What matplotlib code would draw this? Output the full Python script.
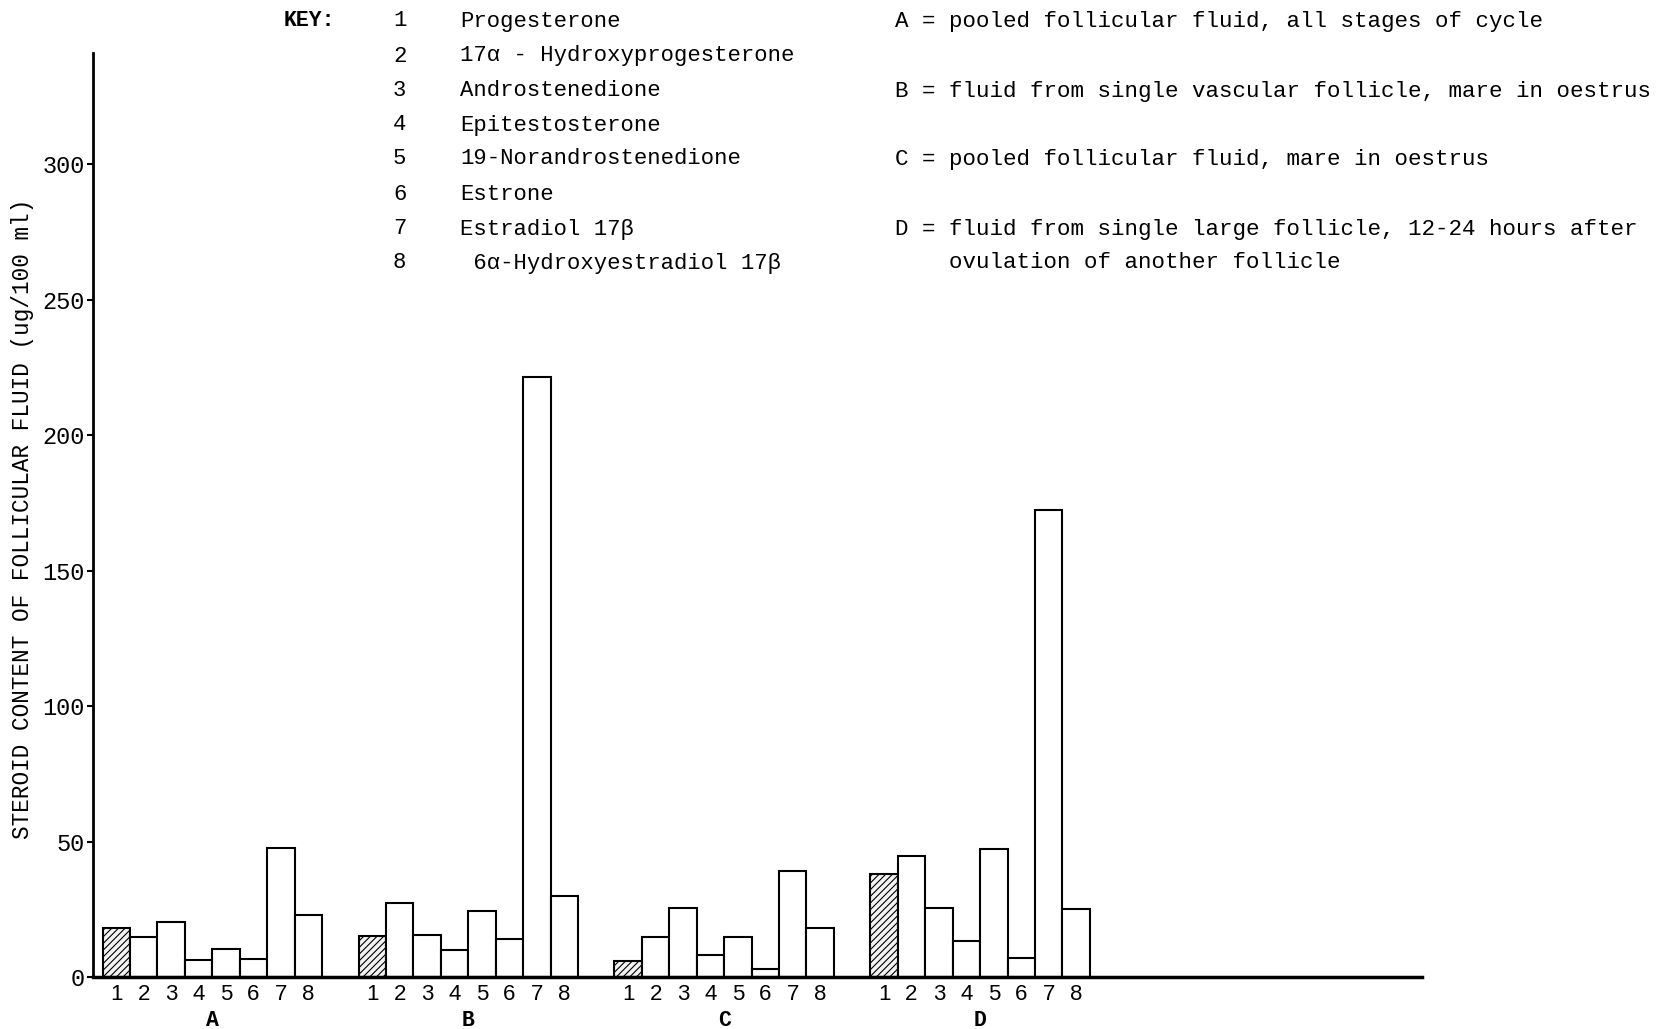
import matplotlib
matplotlib.use("Agg")
import matplotlib.pyplot as plt
import numpy as np

# ---- data ----
groups = ["A", "B", "C", "D"]
steroid_numbers = ["1", "2", "3", "4", "5", "6", "7", "8"]
values_A = [18.0, 14.9, 20.2, 6.2, 10.2, 6.7, 47.5, 22.8]
values_B = [15.0, 27.3, 15.4, 10.0, 24.3, 14.2, 221.5, 29.9]
values_C = [6.0, 14.8, 25.4, 8.1, 14.8, 2.8, 39.0, 17.9]
values_D = [38.1, 44.8, 25.6, 13.3, 47.4, 6.9, 172.5, 25.2]
yticks = [0, 50, 100, 150, 200, 250, 300]

key_names = ["Progesterone", "17\u03b1 - Hydroxyprogesterone", "Androstenedione",
             "Epitestosterone", "19-Norandrostenedione", "Estrone",
             "Estradiol 17\u03b2", " 6\u03b1-Hydroxyestradiol 17\u03b2"]
group_desc = ["A = pooled follicular fluid, all stages of cycle",
              "B = fluid from single vascular follicle, mare in oestrus",
              "C = pooled follicular fluid, mare in oestrus",
              "D = fluid from single large follicle, 12-24 hours after",
              "    ovulation of another follicle"]
ylabel = "STEROID CONTENT OF FOLLICULAR FLUID (ug/100 ml)"

W, H = 1662, 1029
MONO = ["Liberation Mono", "DejaVu Sans Mono"]
plt.rcParams["hatch.linewidth"] = 0.8
plt.rcParams["hatch.color"] = "#555555"

fig = plt.figure(figsize=(W / 100, H / 100), dpi=100)
ax_l, ax_r, ax_b, ax_t = 93, 1422, 977, 53
ax = fig.add_axes([ax_l / W, (H - ax_b) / H, (ax_r - ax_l) / W, (ax_b - ax_t) / H])

group_step = 9.33
all_vals = [values_A, values_B, values_C, values_D]
centers, labels = [], []
for g, vals in enumerate(all_vals):
    x0 = g * group_step
    xs = x0 + np.arange(len(vals))
    for i, (x, v) in enumerate(zip(xs, vals)):
        if i == 0:
            ax.bar(x, v, width=1.0, align="edge", facecolor="#f2f2f2",
                   edgecolor="black", linewidth=1.5, hatch="/////", zorder=2)
        else:
            ax.bar(x, v, width=1.0, align="edge", facecolor="white",
                   edgecolor="black", linewidth=1.5, zorder=2)
        centers.append(x + 0.5)
        labels.append(steroid_numbers[i])
    ax.annotate(groups[g], xy=(x0 + 4, 0), xycoords=("data", "axes fraction"),
                xytext=(0, -31), textcoords="offset points", ha="center", va="center",
                fontsize=15.5, fontweight="bold", family=MONO)

ax.set_xlim(-0.35, 48.1)
ax.set_ylim(0, 341)
ax.set_xticks(centers)
ax.set_xticklabels(labels, fontsize=16, family=["Liberation Sans", "DejaVu Sans"])
ax.tick_params(axis="x", length=0, pad=5)
ax.set_yticks(yticks)
ax.set_yticklabels([str(t) for t in yticks], fontsize=17, family=MONO)
ax.tick_params(axis="y", direction="out", length=4, width=1.5, pad=2)

for s in ["top", "right"]:
    ax.spines[s].set_visible(False)
ax.spines["left"].set_linewidth(2)
ax.spines["bottom"].set_linewidth(2.5)

fig.text(23 / W, 1 - 519 / H, ylabel, rotation=90, ha="center", va="center",
         fontsize=16.3, family=MONO)

# key
def px(x, y):
    return x / W, 1 - y / H

row_y = [21, 56, 91, 125, 159, 194, 229, 263]
fig.text(*px(284, row_y[0]), "KEY:", fontsize=15.5, family=MONO, fontweight="bold",
         ha="left", va="center")
for i, (num, name) in enumerate(zip(steroid_numbers, key_names)):
    fig.text(*px(393, row_y[i]), num, fontsize=16, family=MONO, ha="left", va="center")
    fig.text(*px(460, row_y[i]), name, fontsize=16, family=MONO, ha="left", va="center")

desc_y = [21, 91, 160, 229, 263]
for y, t in zip(desc_y, group_desc):
    fig.text(*px(895, y), t, fontsize=16.2, family=MONO, ha="left", va="center")

fig.savefig("out.png", dpi=100, facecolor="white")
